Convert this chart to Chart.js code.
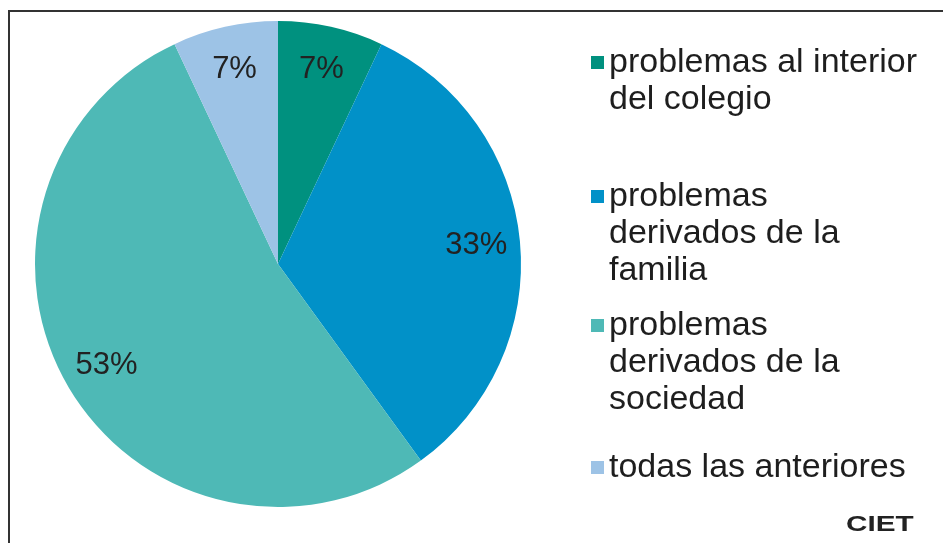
<!DOCTYPE html>
<html>
<head>
<meta charset="utf-8">
<script src="https://cdn.jsdelivr.net/npm/chart.js@4/dist/chart.umd.min.js"></script>
<style>
  html, body { margin: 0; padding: 0; background: #fff; overflow: hidden; }
  #wrap { position: relative; width: 943px; height: 543px; overflow: hidden; }
  #frame { position: absolute; left: 8px; top: 10px; width: 1000px; height: 600px; border: 2px solid #333; }
  #chart { position: absolute; left: 0; top: 0; }
</style>
</head>
<body>
<div id="wrap">
  <div id="frame"></div>
  <canvas id="chart" width="943" height="543"></canvas>
</div>
<script>
// categories (legend text, already split into lines as in the picture)
const categories = [
  ['problemas al interior', 'del colegio'],
  ['problemas', 'derivados de la', 'familia'],
  ['problemas', 'derivados de la', 'sociedad'],
  ['todas las anteriores']
];
// percentage of answers
const values = [7, 33, 53, 7];
const sliceColors = ['#00917F', '#0191C8', '#4EB9B6', '#9DC3E6'];
const sourceText = 'CIET';

const FONT = '"Liberation Sans", Arial, sans-serif';

// percent labels inside each slice
const sliceLabels = {
  id: 'sliceLabels',
  afterDatasetsDraw(chart) {
    const ctx = chart.ctx;
    const meta = chart.getDatasetMeta(0);
    ctx.save();
    ctx.font = '31px ' + FONT;
    ctx.fillStyle = '#222';
    ctx.textAlign = 'center';
    ctx.textBaseline = 'middle';
    meta.data.forEach((arc, i) => {
      const p = arc.getProps(['x', 'y', 'startAngle', 'endAngle', 'outerRadius'], true);
      const mid = (p.startAngle + p.endAngle) / 2;
      const r = p.outerRadius * 0.82;
      ctx.fillText(values[i] + '%', p.x + Math.cos(mid) * r, p.y + Math.sin(mid) * r);
    });
    ctx.restore();
  }
};

// legend on the right, one block per category
const sideLegend = {
  id: 'sideLegend',
  afterDraw(chart) {
    const ctx = chart.ctx;
    const tops = [62, 196, 325, 467];
    const lineH = 37;
    ctx.save();
    ctx.font = '34px ' + FONT;
    ctx.textBaseline = 'middle';
    chart.data.labels.forEach((lines, i) => {
      ctx.fillStyle = sliceColors[i];
      ctx.fillRect(591, tops[i] - 6, 13, 13);
      ctx.fillStyle = '#1e1e1e';
      lines.forEach((t, j) => ctx.fillText(t, 609, tops[i] + 1 + j * lineH));
    });
    // source mark
    ctx.font = 'bold 22px ' + FONT;
    ctx.textBaseline = 'alphabetic';
    ctx.translate(846, 531);
    ctx.scale(1.35, 1);
    ctx.fillStyle = '#222';
    ctx.fillText(sourceText, 0, 0);
    ctx.restore();
  }
};

new Chart(document.getElementById('chart'), {
  type: 'pie',
  data: {
    labels: categories,
    datasets: [{
      data: values,
      backgroundColor: sliceColors,
      borderWidth: 0,
      hoverOffset: 0
    }]
  },
  options: {
    responsive: false,
    devicePixelRatio: 1,
    animation: false,
    events: [],
    layout: { padding: { left: 35, right: 422, top: 21, bottom: 36 } },
    plugins: {
      legend: { display: false },
      tooltip: { enabled: false }
    }
  },
  plugins: [sliceLabels, sideLegend]
});
</script>
</body>
</html>
